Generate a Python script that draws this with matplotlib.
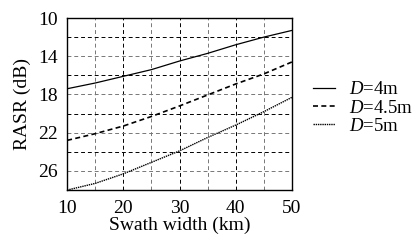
import numpy as np
import matplotlib
matplotlib.use("Agg")
import matplotlib.pyplot as plt
from matplotlib.ticker import MultipleLocator

plt.rcParams['font.family'] = ['Liberation Serif', 'DejaVu Serif']
plt.rcParams['mathtext.fontset'] = 'custom'
plt.rcParams['mathtext.rm'] = 'Liberation Serif'
plt.rcParams['mathtext.it'] = 'Liberation Serif:italic'

# swath width (km)
swath = [10, 15, 20, 25, 30, 35, 40, 45, 50]
# RASR (dB) per antenna length
rasr_4m = [17.4, 16.8, 16.1, 15.4, 14.5, 13.7, 12.8, 12.0, 11.3]
rasr_45m = [22.8, 22.1, 21.3, 20.3, 19.2, 18.05, 16.9, 15.85, 14.6]
rasr_5m = [28.0, 27.3, 26.3, 25.1, 23.9, 22.5, 21.2, 19.8, 18.3]
labels = ['$D$=4m', '$D$=4.5m', '$D$=5m']

fig = plt.figure(figsize=(4.17, 2.40), dpi=100)
ax = fig.add_axes([0.161, 0.208, 0.539, 0.717])

l1, = ax.plot(swath, rasr_4m, color='black', lw=0.9, ls='-')
l2, = ax.plot(swath, rasr_45m, color='black', lw=1.2, ls=(0, (3, 2)))
l3, = ax.plot(swath, rasr_5m, color='black', lw=1.0, ls=(0, (1, 0.6)))

ax.set_xlim(10, 50)
ax.set_ylim(28, 10)
ax.xaxis.set_major_locator(MultipleLocator(10))
ax.xaxis.set_minor_locator(MultipleLocator(5))
ax.set_yticks([10, 14, 18, 22, 26])
ax.set_yticks([12, 16, 20, 24], minor=True)

# darker and lighter dashed grids as in the original
ax.grid(True, axis='x', which='major', color='black', ls=(0, (4, 3)), lw=0.7)
ax.grid(True, axis='x', which='minor', color='#777777', ls=(0, (4, 3)), lw=0.7)
ax.grid(True, axis='y', which='minor', color='black', ls=(0, (4, 3)), lw=0.7)
ax.grid(True, axis='y', which='major', color='#777777', ls=(0, (4, 3)), lw=0.7)

ax.tick_params(which='both', length=0, labelsize=14, pad=7)
for s in ax.spines.values():
    s.set_linewidth(1.0)

ax.set_xlabel('Swath width (km)', fontsize=14, labelpad=0)
ax.set_ylabel('RASR (dB)', fontsize=14, labelpad=5)

fig.legend([l1, l2, l3], labels, loc='center left',
           bbox_to_anchor=(0.728, 0.55), frameon=False, fontsize=13.5,
           handlelength=1.15, handletextpad=0.75, labelspacing=0.05,
           borderpad=0)

fig.savefig('out.png', dpi=100)
